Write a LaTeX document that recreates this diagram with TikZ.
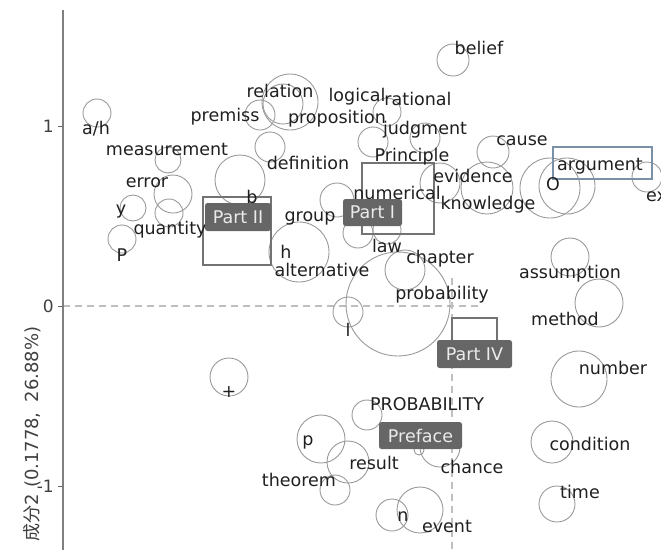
\documentclass[tikz,border=0pt]{standalone}
\usepackage{fontspec}
\setmainfont{DejaVu Sans}
\newfontfamily\cjkfont{Noto Sans CJK JP}
\definecolor{argc}{HTML}{7A90A8}
\begin{document}
\begin{tikzpicture}[x=1pt,y=-1pt]
\tikzset{
  bub/.style={draw=black!40, line width=0.9pt},
  wd/.style={text=black!88, font=\fontsize{17.5}{18}\selectfont, inner sep=0pt},
  tick/.style={text=black!75, font=\fontsize{17}{18}\selectfont, inner sep=0pt, anchor=east},
  partlab/.style={fill=black!60, text=black!8, rounded corners=2.5pt, font=\fontsize{17.5}{18}\selectfont, inner sep=0pt},
  grp/.style={draw=black!55, line width=1.1pt},
  argbox/.style={draw=argc, line width=1.1pt},
  zeroline/.style={draw=black!25, dash pattern=on 7pt off 5pt, line width=1.6pt},
  axisline/.style={draw=black!50, line width=2.4pt}
}
\useasboundingbox (0,0) rectangle (661,550);
\clip (0,0) rectangle (661,550);
% zero lines
\draw[zeroline] (63,306) -- (480,306);
\draw[zeroline] (452,278) -- (452,550);
% axis
\draw[axisline] (63,10) -- (63,550);
\foreach \yy in {126,306,486} \draw[draw=black!60, line width=1pt] (58,\yy) -- (63,\yy);
\node[tick] (t1) at (54,126) {1};
\node[tick] (t0) at (54,306) {0};
\node[tick] (tm1) at (54,486) {-1};
\node[rotate=90, text=black!75, font=\fontsize{18}{19}\selectfont, inner sep=0pt] (ylab) at (32,434) {{\cjkfont 成分}2\hspace{6pt}(0.1778,\hspace{10pt}26.88\%)};
% bubbles
\draw[bub] (97,113) circle[radius=14];
\draw[bub] (168,160) circle[radius=13];
\draw[bub] (173,194) circle[radius=19];
\draw[bub] (133,208) circle[radius=13];
\draw[bub] (169,213) circle[radius=14];
\draw[bub] (122,239) circle[radius=14];
\draw[bub] (240,180) circle[radius=25];
\draw[bub] (290,102) circle[radius=28];
\draw[bub] (283,104) circle[radius=20];
\draw[bub] (260,115) circle[radius=15];
\draw[bub] (270,147) circle[radius=15];
\draw[bub] (387,112) circle[radius=14];
\draw[bub] (373,142) circle[radius=15];
\draw[bub] (425,138) circle[radius=15];
\draw[bub] (453,60) circle[radius=16];
\draw[bub] (493,152) circle[radius=16];
\draw[bub] (440,183) circle[radius=20];
\draw[bub] (487,188) circle[radius=26];
\draw[bub] (550,188) circle[radius=30];
\draw[bub] (567,186) circle[radius=28];
\draw[bub] (647,177) circle[radius=15];
\draw[bub] (337,200) circle[radius=17];
\draw[bub] (358,233) circle[radius=15];
\draw[bub] (387,230) circle[radius=14];
\draw[bub] (405,270) circle[radius=20];
\draw[bub] (299,252) circle[radius=30];
\draw[bub] (398,304) circle[radius=52];
\draw[bub] (348,312) circle[radius=15];
\draw[bub] (229,377) circle[radius=19];
\draw[bub] (570,257) circle[radius=19];
\draw[bub] (599,303) circle[radius=24];
\draw[bub] (579,379) circle[radius=28];
\draw[bub] (552,442) circle[radius=21];
\draw[bub] (557,504) circle[radius=18];
\draw[bub] (367,415) circle[radius=15];
\draw[bub] (440,447) circle[radius=20];
\draw[bub] (419,450) circle[radius=5];
\draw[bub] (348,462) circle[radius=21];
\draw[bub] (321,439) circle[radius=24];
\draw[bub] (335,490) circle[radius=15];
\draw[bub] (392,515) circle[radius=16];
\draw[bub] (420,510) circle[radius=23];
% part rectangles
\draw[grp] (203,197) rectangle (271,265);
\draw[grp] (362,163) rectangle (434,234);
\draw[grp] (452,345) -- (452,318) -- (497,318) -- (497,345);
\draw[argbox] (553,147) rectangle (652,179);
% words
\node[wd] (w-ah) at (96,129) {a/h};
\node[wd] (w-measurement) at (167,149) {measurement};
\node[wd] (w-error) at (147,183) {error};
\node[wd] (w-y) at (121,212) {y};
\node[wd] (w-quantity) at (170,230) {quantity};
\node[wd] (w-P) at (122,255) {P};
\node[wd] (w-b) at (252,197) {b};
\node[wd] (w-relation) at (280,91) {relation};
\node[wd] (w-premiss) at (225,117) {premiss};
\node[wd] (w-proposition) at (337,119) {proposition};
\node[wd] (w-logical) at (357,97) {logical};
\node[wd] (w-rational) at (418,99) {rational};
\node[wd] (w-belief) at (479,48) {belief};
\node[wd] (w-judgment) at (425,130) {judgment};
\node[wd] (w-Principle) at (412,157) {Principle};
\node[wd] (w-definition) at (308,163) {definition};
\node[wd] (w-cause) at (522,141) {cause};
\node[wd] (w-evidence) at (473,176) {evidence};
\node[wd] (w-knowledge) at (488,205) {knowledge};
\node[wd] (w-O) at (553,184) {O};
\node[wd] (w-argument) at (600,166) {argument};
\node[wd, anchor=west] (w-ex) at (646,197) {ex};
\node[wd] (w-numerical) at (397,193) {numerical};
\node[wd] (w-group) at (310,218) {group};
\node[wd] (w-law) at (387,246) {law};
\node[wd] (w-chapter) at (440,259) {chapter};
\node[wd] (w-h) at (286,252) {h};
\node[wd] (w-alternative) at (322,270) {alternative};
\node[wd] (w-probability) at (442,295) {probability};
\node[wd] (w-l) at (348,330) {l};
\node[wd] (w-assumption) at (570,274) {assumption};
\node[wd] (w-method) at (565,319) {method};
\node[wd] (w-number) at (613,368) {number};
\node[wd] (w-condition) at (590,444) {condition};
\node[wd] (w-time) at (580,492) {time};
\node[wd] (w-PROB) at (427,404) {PROBABILITY};
\node[wd] (w-chance) at (472,467) {chance};
\node[wd] (w-result) at (374,463) {result};
\node[wd] (w-p) at (308,442) {p};
\node[wd] (w-theorem) at (299,480) {theorem};
\node[wd] (w-n) at (403,517) {n};
\node[wd] (w-event) at (447,526) {event};
\node[wd] (w-plus) at (229,392) {+};
% part labels
\node[partlab, minimum width=66pt, minimum height=28pt] (l-part2) at (238,217) {Part II};
\node[partlab, minimum width=59pt, minimum height=27pt] (l-part1) at (372.5,212.5) {Part I};
\node[partlab, minimum width=75pt, minimum height=28pt] (l-part4) at (474.5,354) {Part IV};
\node[partlab, minimum width=83pt, minimum height=27pt] (l-preface) at (420.5,435.5) {Preface};
\end{tikzpicture}
\end{document}
